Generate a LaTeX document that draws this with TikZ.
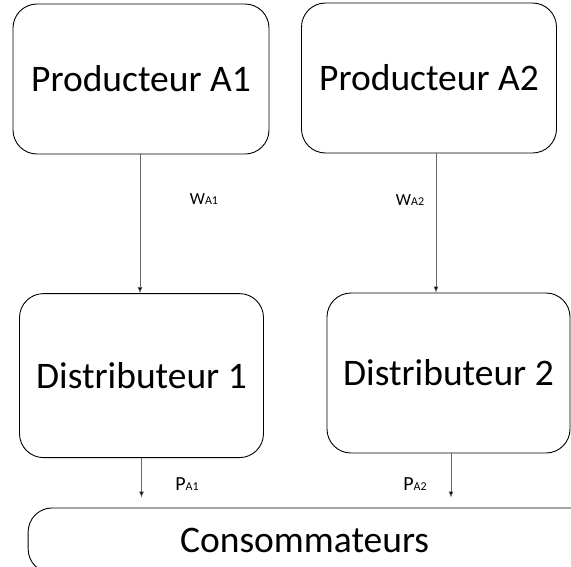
\documentclass[tikz,border=0pt]{standalone}
\usepackage{fontspec}
\setmainfont{Carlito}
\usetikzlibrary{arrows.meta}
\tikzset{
  box/.style={draw=black, line width=0.9pt, rounded corners=24pt,
    font=\fontsize{37.5}{42}\selectfont, inner sep=0pt},
  flow/.style={draw=gray!80!black, line width=0.6pt,
    -{Latex[length=6pt,width=5pt,fill=black]}},
  lbl/.style={inner sep=0pt}
}
\begin{document}
\begin{tikzpicture}[x=1pt,y=-1pt]
  % page frame
  \useasboundingbox (0,0) rectangle (571,566);
  \clip (0,0) rectangle (571,566);
  \node[box, minimum width=256pt, minimum height=150pt] (pA1) at (141,79) {Producteur A1};
  \node[box, minimum width=255pt, minimum height=150pt] (pA2) at (429,78) {Producteur A2};
  \node[box, minimum width=244pt, minimum height=164pt] (dist1) at (141.5,375.6) {Distributeur 1};
  \node[box, minimum width=243pt, minimum height=160pt] (dist2) at (448.5,373) {Distributeur 2};
  % runs past the right edge of the page
  \node[box, minimum width=572pt, minimum height=65pt, anchor=north west] (conso) at (27.7,507.5) {\hspace*{-19pt}Consommateurs};
  % flows
  \draw[flow] ([xshift=-1pt]pA1.south) -- ([xshift=-1pt]pA1.south |- dist1.north);
  \draw[flow] ([xshift=7pt]pA2.south) -- ([xshift=7pt]pA2.south |- dist2.north);
  \draw[flow, shorten >=10pt] (dist1.south) -- (dist1.south |- conso.north);
  \draw[flow, shorten >=10pt] ([xshift=2.5pt]dist2.south) -- ([xshift=2.5pt]dist2.south |- conso.north);
  % labels
  \node[lbl] (wA1) at (204,199) {\fontsize{17}{20}\selectfont W\fontsize{12}{14}\selectfont A1};
  \node[lbl] (wA2) at (410,200) {\fontsize{17}{20}\selectfont W\fontsize{12}{14}\selectfont A2};
  \node[lbl] (prA1) at (187,484) {\fontsize{20}{22}\selectfont P\fontsize{12}{14}\selectfont A1};
  \node[lbl] (prA2) at (415,484) {\fontsize{20}{22}\selectfont P\fontsize{12}{14}\selectfont A2};
\end{tikzpicture}
\end{document}
